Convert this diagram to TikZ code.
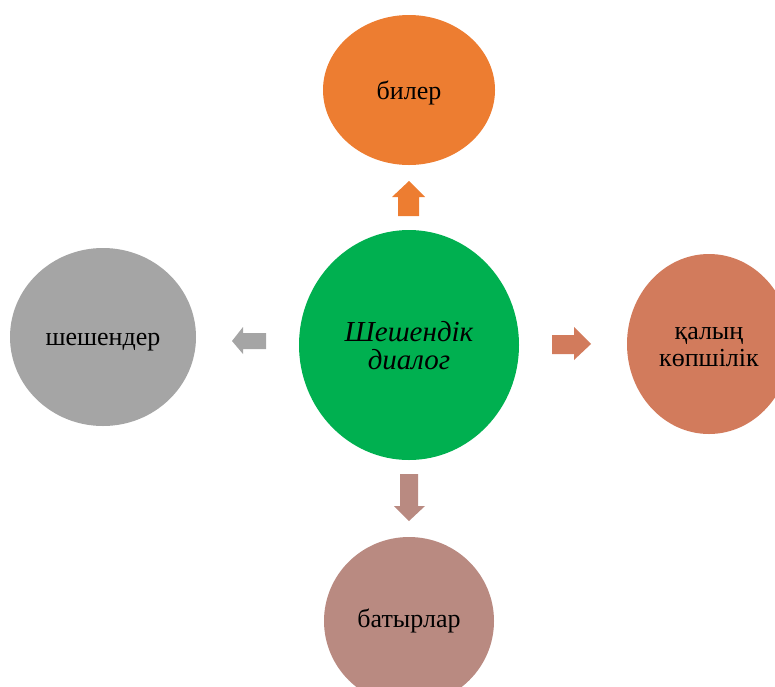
\documentclass[tikz,border=0pt]{standalone}
\usepackage{fontspec}
\setmainfont{Liberation Serif}
\usetikzlibrary{shapes.geometric}
\definecolor{cgreen}{HTML}{00B050}
\definecolor{corange}{HTML}{ED7D31}
\definecolor{cgray}{HTML}{A5A5A5}
\definecolor{cright}{HTML}{D27B5C}
\definecolor{cbottom}{HTML}{B98A81}
\begin{document}
\begin{tikzpicture}[x=1pt,y=-1pt,
  blob/.style={ellipse, inner sep=0pt, draw=none},
  lbl/.style={inner sep=0pt, align=center, font=\fontsize{26}{27}\selectfont},
  blockarrow/.style={draw=none}]
\useasboundingbox (0,0) rectangle (775,686);
\clip (0,0) rectangle (775,686);
\node[blob, fill=cgreen, minimum width=220pt, minimum height=230pt] (c) at (409,345) {};
\node[blob, fill=corange, minimum width=172pt, minimum height=150pt] (t) at (409,90) {};
\node[blob, fill=cgray, minimum width=186pt, minimum height=178pt] (l) at (103,337) {};
\node[blob, fill=cright, minimum width=164pt, minimum height=180pt] (r) at (709,344) {};
\node[blob, fill=cbottom, minimum width=170pt, minimum height=168pt] (b) at (409,621) {};
\node[lbl, font=\fontsize{29}{28}\selectfont\itshape] (ct) at ([yshift=-1pt]c.center) {Шешендік\\диалог};
\node[lbl] (tt) at ([yshift=-3pt]t.center) {билер};
\node[lbl] (lt) at ([yshift=-5pt]l.center) {шешендер};
\node[lbl] (rt) at ([yshift=-3pt]r.center) {қалың\\көпшілік};
\node[lbl] (bt) at ([yshift=0pt]b.center) {батырлар};
% block arrows
\fill[blockarrow, corange] (409,181) -- (425,197) -- (419,197) -- (419,216) -- (398,216) -- (398,197) -- (392,197) -- cycle;
\fill[blockarrow, cgray] (232,341) -- (243,327) -- (243,333) -- (266,333) -- (266,349) -- (243,349) -- (243,354) -- cycle;
\fill[blockarrow, cright] (591,344) -- (574,327) -- (574,335) -- (552,335) -- (552,354) -- (574,354) -- (574,360) -- cycle;
\fill[blockarrow, cbottom] (409,521) -- (425,506) -- (418,506) -- (418,474) -- (400,474) -- (400,506) -- (394,506) -- cycle;
\end{tikzpicture}
\end{document}
